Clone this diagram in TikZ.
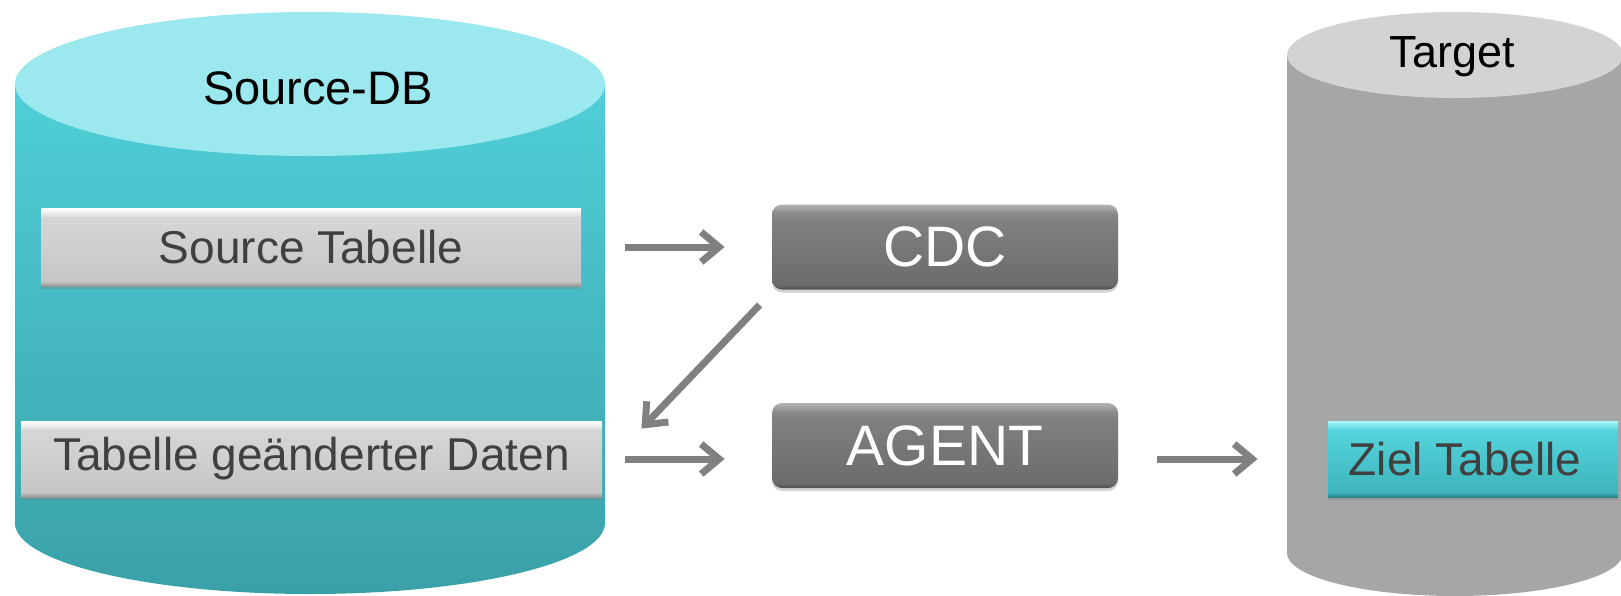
\documentclass[tikz,border=0pt]{standalone}
\usepackage{fontspec}
\setmainfont{Liberation Sans}
\usetikzlibrary{arrows.meta,calc,shadows}

% palette
\definecolor{cyancap}{RGB}{155,233,238}
\definecolor{cyantop}{RGB}{80,207,215}
\definecolor{cyanbot}{RGB}{58,160,168}
\definecolor{greycap}{RGB}{211,211,211}
\definecolor{greybody}{RGB}{166,166,166}
\definecolor{arrowgrey}{RGB}{128,128,128}
\definecolor{labelgrey}{RGB}{64,64,64}
% bevelled panels
\definecolor{pg0}{RGB}{150,150,153}
\definecolor{pg1}{RGB}{198,198,201}
\definecolor{pg2}{RGB}{214,214,216}
\definecolor{pg3}{RGB}{238,238,240}
\definecolor{pg4}{RGB}{255,255,255}
\definecolor{dk0}{RGB}{78,78,78}
\definecolor{dk1}{RGB}{108,108,108}
\definecolor{dk2}{RGB}{128,128,128}
\definecolor{dk3}{RGB}{140,140,140}
\definecolor{dk4}{RGB}{180,180,180}
\definecolor{cy0}{RGB}{40,130,138}
\definecolor{cy1}{RGB}{62,180,188}
\definecolor{cy2}{RGB}{85,212,220}
\definecolor{cy3}{RGB}{125,230,236}
\definecolor{cy4}{RGB}{170,245,248}

\pgfdeclareverticalshading{panelgrey}{100bp}{color(0bp)=(pg0); color(25bp)=(pg0); color(28bp)=(pg1); color(69bp)=(pg2); color(72bp)=(pg3); color(75bp)=(pg4); color(100bp)=(pg4)}
\pgfdeclareverticalshading{paneldark}{100bp}{color(0bp)=(dk0); color(25bp)=(dk0); color(28bp)=(dk1); color(66bp)=(dk2); color(70bp)=(dk3); color(75bp)=(dk4); color(100bp)=(dk4)}
\pgfdeclareverticalshading{panelcyan}{100bp}{color(0bp)=(cy0); color(25bp)=(cy0); color(28bp)=(cy1); color(69bp)=(cy2); color(72bp)=(cy3); color(75bp)=(cy4); color(100bp)=(cy4)}

\tikzset{
  panel/.style={inner sep=0pt, shade, text=labelgrey,
    font=\fontsize{23pt}{27pt}\selectfont,
    drop shadow={shadow xshift=0pt, shadow yshift=-1.5pt, opacity=0.35}},
  greypanel/.style={panel, shading=panelgrey},
  cyanpanel/.style={panel, shading=panelcyan},
  stage/.style={panel, shading=paneldark, rounded corners=5pt, text=white,
    minimum width=173pt, font=\fontsize{28.5pt}{33pt}\selectfont},
  dblabel/.style={inner sep=0pt, text=black},
  flow/.style={draw=arrowgrey, line width=3.5pt,
    -{Straight Barb[length=9pt, width=15pt]}}
}

\begin{document}
\begin{tikzpicture}[x=0.5pt, y=-0.5pt]
\useasboundingbox (0,0) rectangle (1621,595);
\clip (0,0) rectangle (1621,595);

% source database cylinder
\shade[top color=cyantop, bottom color=cyanbot]
  (15,84) -- (15,523) arc[start angle=180, end angle=360, x radius=147.5pt, y radius=35.5pt]
  -- (605,84) -- cycle;
\fill[cyancap] (310,84) ellipse [x radius=147.5pt, y radius=36pt];
\node[dblabel, font=\fontsize{23.5pt}{28pt}\selectfont] (srcdb) at (318,88) {Source-DB};

% target database cylinder
\fill[greybody]
  (1287,55) -- (1287,553) arc[start angle=180, end angle=360, x radius=84pt, y radius=21.5pt]
  -- (1623,55) -- cycle;
\fill[greycap] (1455,55) ellipse [x radius=84pt, y radius=21.5pt];
\node[dblabel, font=\fontsize{22.5pt}{27pt}\selectfont] (tgtdb) at (1452,57) {Target};

% tables
\node[greypanel, minimum width=270pt, minimum height=39pt] (srctab) at (311,247) {Source Tabelle};
\node[greypanel, minimum width=290.5pt, minimum height=38pt] (chgtab) at (311.5,459) {Tabelle geänderter Daten};
\node[cyanpanel, minimum width=145pt, minimum height=38pt] (ziel) at (1473,459) {\hspace*{-8pt}Ziel Tabelle};

% processing stages
\node[stage, minimum height=42.5pt] (cdc) at (945,247) {CDC};
\node[stage, minimum height=42.5pt] (agent) at (945,445.5) {AGENT};

% data flow
\draw[flow, shorten <=22pt, shorten >=23.5pt] (srctab.east) -- (srctab.east -| cdc.west);
\draw[flow] ($(cdc.south west)+(-12,15)$) -- ($(chgtab.north east)+(39,8)$);
\draw[flow, shorten <=11.5pt, shorten >=23.5pt] (chgtab.east) -- (chgtab.east -| agent.west);
\draw[flow, shorten <=19.5pt, shorten >=35pt] (agent.east |- ziel.west) -- (ziel.west);
\end{tikzpicture}
\end{document}
